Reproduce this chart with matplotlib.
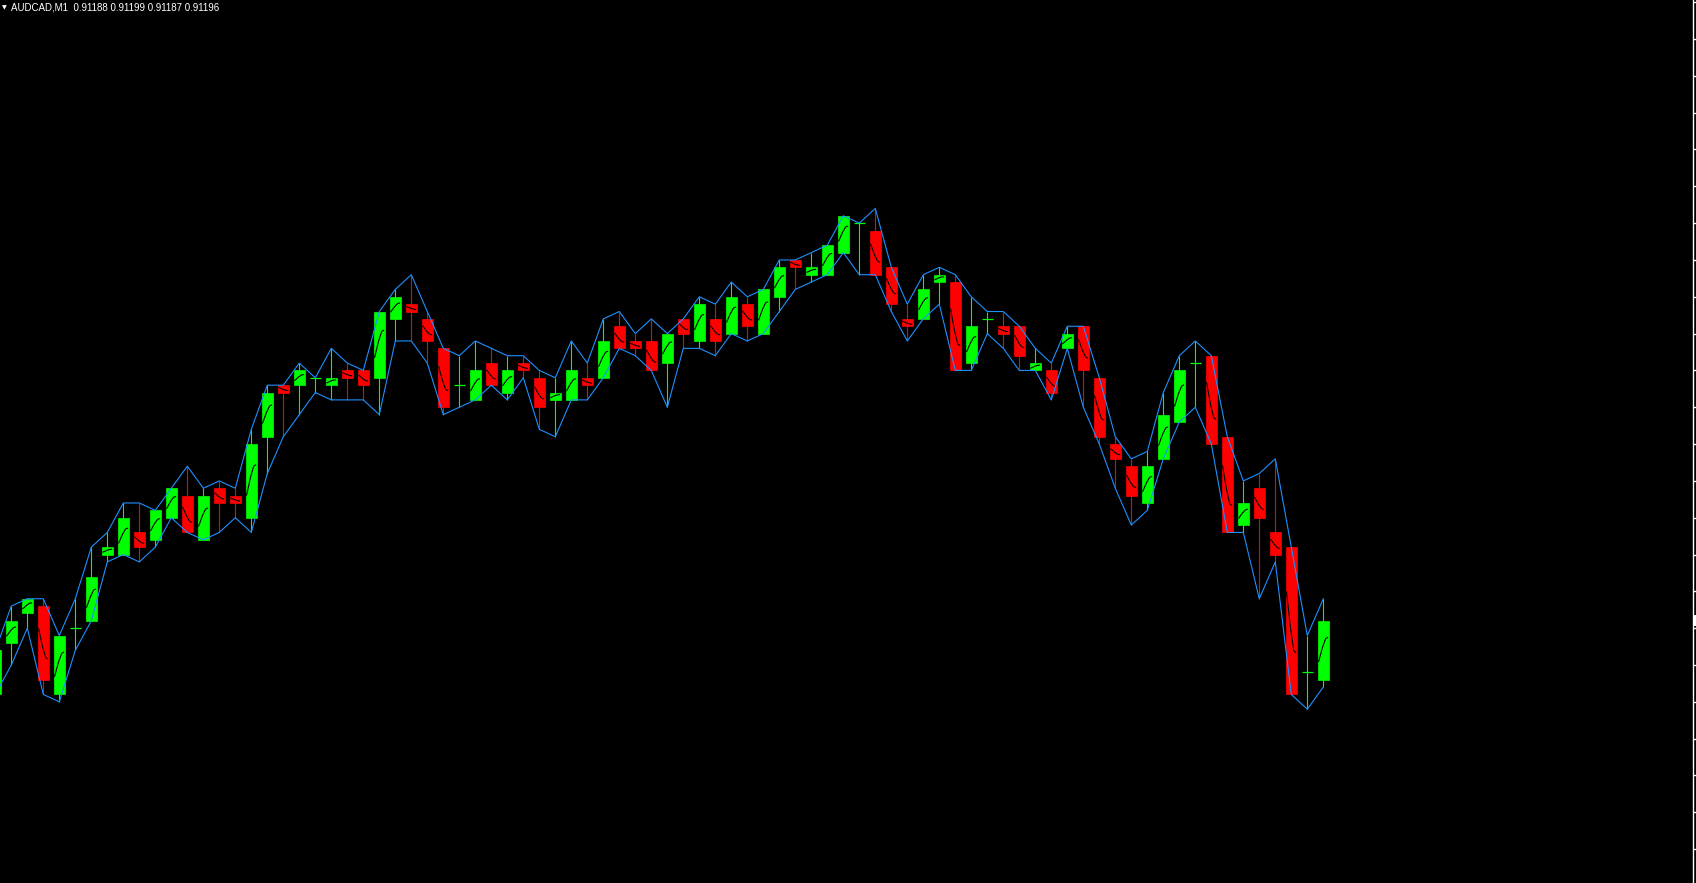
import matplotlib
matplotlib.use("Agg")
import matplotlib.pyplot as plt
from matplotlib.collections import LineCollection
import numpy as np

# ---- data (AUDCAD M1), bar index -1 .. 82 ----
opens = [0.91186, 0.91193, 0.91197, 0.91198, 0.91186, 0.91195, 0.91196, 0.91205, 0.91205, 0.91208,
         0.91207, 0.91210, 0.91213, 0.91207, 0.91214, 0.91213, 0.91210, 0.91221, 0.91228, 0.91228,
         0.91229, 0.91228, 0.91230, 0.91230, 0.91229, 0.91237, 0.91239, 0.91237, 0.91233, 0.91228,
         0.91226, 0.91231, 0.91227, 0.91231, 0.91229, 0.91226, 0.91226, 0.91229, 0.91229, 0.91236,
         0.91234, 0.91234, 0.91231, 0.91237, 0.91234, 0.91237, 0.91235, 0.91239, 0.91235, 0.91240,
         0.91245, 0.91243, 0.91243, 0.91246, 0.91250, 0.91249, 0.91244, 0.91237, 0.91237, 0.91242,
         0.91242, 0.91231, 0.91237, 0.91236, 0.91236, 0.91230, 0.91230, 0.91233, 0.91236, 0.91229,
         0.91220, 0.91217, 0.91212, 0.91218, 0.91223, 0.91231, 0.91232, 0.91221, 0.91209, 0.91214,
         0.91208, 0.91206, 0.91189, 0.91188]
highs = [0.91192, 0.91198, 0.91199, 0.91199, 0.91194, 0.91199, 0.91206, 0.91208, 0.91212, 0.91212,
         0.91211, 0.91214, 0.91217, 0.91214, 0.91215, 0.91214, 0.91222, 0.91228, 0.91228, 0.91231,
         0.91229, 0.91233, 0.91231, 0.91230, 0.91238, 0.91241, 0.91243, 0.91238, 0.91233, 0.91232,
         0.91234, 0.91233, 0.91232, 0.91232, 0.91230, 0.91229, 0.91234, 0.91231, 0.91237, 0.91238,
         0.91235, 0.91237, 0.91235, 0.91237, 0.91240, 0.91239, 0.91242, 0.91240, 0.91241, 0.91245,
         0.91245, 0.91246, 0.91247, 0.91251, 0.91250, 0.91252, 0.91244, 0.91239, 0.91243, 0.91244,
         0.91243, 0.91240, 0.91238, 0.91238, 0.91236, 0.91233, 0.91231, 0.91236, 0.91236, 0.91229,
         0.91221, 0.91218, 0.91219, 0.91227, 0.91232, 0.91234, 0.91232, 0.91221, 0.91215, 0.91216,
         0.91218, 0.91206, 0.91194, 0.91199]
lows = [0.91186, 0.91190, 0.91195, 0.91186, 0.91185, 0.91192, 0.91196, 0.91204, 0.91205, 0.91204,
        0.91206, 0.91210, 0.91208, 0.91207, 0.91208, 0.91210, 0.91208, 0.91216, 0.91221, 0.91224,
        0.91227, 0.91226, 0.91226, 0.91226, 0.91224, 0.91234, 0.91234, 0.91231, 0.91224, 0.91225,
        0.91226, 0.91228, 0.91226, 0.91229, 0.91222, 0.91221, 0.91226, 0.91226, 0.91229, 0.91233,
        0.91232, 0.91230, 0.91225, 0.91233, 0.91233, 0.91232, 0.91235, 0.91234, 0.91235, 0.91238,
        0.91241, 0.91242, 0.91243, 0.91246, 0.91243, 0.91243, 0.91238, 0.91234, 0.91237, 0.91239,
        0.91230, 0.91230, 0.91235, 0.91233, 0.91230, 0.91230, 0.91226, 0.91233, 0.91225, 0.91220,
        0.91214, 0.91209, 0.91211, 0.91218, 0.91223, 0.91225, 0.91220, 0.91208, 0.91208, 0.91199,
        0.91204, 0.91186, 0.91184, 0.91187]
closes = [0.91192, 0.91196, 0.91199, 0.91188, 0.91194, 0.91195, 0.91202, 0.91206, 0.91210, 0.91206,
          0.91211, 0.91214, 0.91208, 0.91213, 0.91212, 0.91212, 0.91220, 0.91227, 0.91227, 0.91230,
          0.91229, 0.91229, 0.91229, 0.91228, 0.91238, 0.91240, 0.91238, 0.91234, 0.91225, 0.91228,
          0.91230, 0.91228, 0.91230, 0.91230, 0.91225, 0.91227, 0.91230, 0.91228, 0.91234, 0.91233,
          0.91233, 0.91230, 0.91235, 0.91235, 0.91239, 0.91234, 0.91240, 0.91236, 0.91241, 0.91244,
          0.91244, 0.91244, 0.91247, 0.91251, 0.91250, 0.91243, 0.91239, 0.91236, 0.91241, 0.91243,
          0.91230, 0.91236, 0.91237, 0.91235, 0.91232, 0.91231, 0.91227, 0.91235, 0.91230, 0.91221,
          0.91218, 0.91213, 0.91217, 0.91224, 0.91230, 0.91231, 0.91220, 0.91208, 0.91212, 0.91210,
          0.91205, 0.91186, 0.91189, 0.91196]
first_index = -1
symbol = "AUDCAD,M1"
header_values = ["0.91188", "0.91199", "0.91187", "0.91196"]
bid_price = 0.91196

# ---- style ----
BULL = "#00FF00"
BEAR = "#FF0000"
BAND = "#1E90FF"
W, H, DPI = 1696, 883, 100

o = np.array(opens); h = np.array(highs); l = np.array(lows); c = np.array(closes)
x = np.arange(len(o)) + first_index

fig = plt.figure(figsize=(W / DPI, H / DPI), dpi=DPI, facecolor="black")
ax = fig.add_axes([0, 0, 1692.5 / W, 1])
ax.set_facecolor("black")

# scale: 16 px per bar, bar 0 centre at 11.3 px
px_per_bar = 16.0
x0_px = 11.3
ax.set_xlim(-x0_px / px_per_bar, (1692.5 - x0_px) / px_per_bar)
ax.set_ylim(0.911604, 0.912803)

cols = np.where(c >= o, BULL, BEAR)

# wicks
ax.vlines(x, l, h, colors=cols, linewidth=0.8, zorder=2)
# bodies
bw = 0.68
body_lo = np.minimum(o, c)
body_h = np.abs(c - o)
nz = body_h > 0
ax.bar(x[nz], body_h[nz], bottom=body_lo[nz], width=bw, color=cols[nz],
       edgecolor=cols[nz], linewidth=0.5, zorder=3)
# doji bars
dz = ~nz
ax.hlines(o[dz], x[dz] - bw / 2, x[dz] + bw / 2, colors=cols[dz], linewidth=0.9, zorder=3)

# thin inner line in each body
segs = []
for xi, oi, ci in zip(x[nz], o[nz], c[nz]):
    d = ci - oi
    segs.append([(xi - 0.3, oi + 0.3 * d), (xi - 0.05, oi + 0.55 * d),
                 (xi + 0.15, oi + 0.7 * d), (xi + 0.3, oi + 0.72 * d)])
ax.add_collection(LineCollection(segs, colors="black", linewidths=0.8, zorder=4))

# high / low envelope
ax.plot(x, h, color=BAND, linewidth=0.8, zorder=5)
ax.plot(x, l, color=BAND, linewidth=0.8, zorder=5)

# axes / price scale
for s in ["top", "left", "bottom"]:
    ax.spines[s].set_visible(False)
ax.spines["right"].set_color("white")
ax.spines["right"].set_linewidth(1.0)
ax.set_xticks([])
ticks = np.arange(0.91165, 0.91281, 0.00005)
ax.yaxis.tick_right()
ax.set_yticks(ticks)
ax.tick_params(axis="y", colors="white", length=3, width=1, labelright=False, direction="out")

# bid price marker on the scale
yb = ax.transData.transform((0, bid_price))[1]
fig.patches.append(plt.Rectangle((1693.5 / W, (yb - 5.5) / H), 3 / W, 11 / H,
                                 transform=fig.transFigure, facecolor="white",
                                 edgecolor="none"))

# header
fig.text(1.5 / W, 1 - 8 / H, "\u25bc", color="white", fontsize=4.5, va="center", ha="left",
         family="DejaVu Sans")
fig.text(11 / W, 1 - 8 / H, symbol + "  " + " ".join(header_values), color="white",
         fontsize=7, va="center", ha="left", family="Liberation Sans")

fig.savefig("out.png", dpi=DPI, facecolor="black")
